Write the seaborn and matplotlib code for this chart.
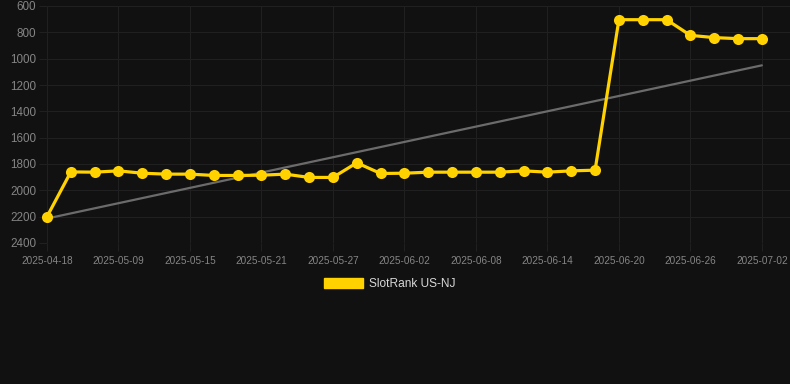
import numpy as np
import pandas as pd
import matplotlib
matplotlib.use("Agg")
import matplotlib.pyplot as plt
from matplotlib.patches import Patch
import seaborn as sns

# SlotRank history, US-NJ (lower rank number = better)
dates = [
    "2025-04-18", "2025-05-05", "2025-05-07", "2025-05-09", "2025-05-11",
    "2025-05-13", "2025-05-15", "2025-05-17", "2025-05-19", "2025-05-21",
    "2025-05-23", "2025-05-25", "2025-05-27", "2025-05-29", "2025-05-31",
    "2025-06-02", "2025-06-04", "2025-06-06", "2025-06-08", "2025-06-10",
    "2025-06-12", "2025-06-14", "2025-06-16", "2025-06-18", "2025-06-20",
    "2025-06-22", "2025-06-24", "2025-06-26", "2025-06-28", "2025-06-30",
    "2025-07-02",
]
ranks = [
    2200, 1860, 1862, 1852, 1870,
    1877, 1877, 1887, 1887, 1885,
    1877, 1902, 1902, 1791, 1872,
    1870, 1862, 1862, 1862, 1862,
    1852, 1862, 1852, 1847, 704,
    704, 704, 823, 840, 848,
    848,
]
series_name = "SlotRank US-NJ"
y_ticks = [600, 800, 1000, 1200, 1400, 1600, 1800, 2000, 2200, 2400]

BG = "#111111"
GRID = "#202020"
YELLOW = "#FFD200"
TREND = "#6b6b6b"
TICK = "#858585"

df = pd.DataFrame({"date": dates, "rank": ranks})
df["idx"] = np.arange(len(df))

sns.set_theme(style="dark")
plt.rcParams["font.family"] = ["Liberation Sans", "DejaVu Sans"]

fig = plt.figure(figsize=(7.9, 3.84), dpi=100, facecolor=BG)
ax = fig.add_axes([47 / 790, 1 - 243 / 384, 743 / 790, 237 / 384])
ax.set_facecolor(BG)

# trend line (linear fit over the whole series)
sns.regplot(data=df, x="idx", y="rank", scatter=False, ci=None, truncate=True,
            line_kws={"color": TREND, "lw": 1.6}, ax=ax)

sns.lineplot(data=df, x="idx", y="rank", color=YELLOW, lw=2.3, marker="o",
             markersize=8, markeredgewidth=0, ax=ax, zorder=3, clip_on=False)

ax.set_xlim(0, 31.18)
ax.set_ylim(2400, 600)
ax.set_yticks(y_ticks)
ax.set_xticks(df["idx"][::3])
ax.set_xticklabels(df["date"][::3])

for s in ax.spines.values():
    s.set_visible(False)
ax.grid(True, color=GRID, lw=0.8)
ax.tick_params(axis="y", colors=GRID, labelcolor=TICK, labelsize=8.4,
               length=5.8, width=0.8, pad=2.2, left=True)
ax.tick_params(axis="x", colors=GRID, labelcolor=TICK, labelsize=7.2,
               length=5.8, width=0.8, pad=3.2, bottom=True)
ax.set_xlabel("")
ax.set_ylabel("")

handle = Patch(facecolor=YELLOW, edgecolor=YELLOW)
fig.legend([handle], [series_name], loc="center", bbox_to_anchor=(390 / 790, 1 - 284 / 384),
           frameon=False, fontsize=8.6, handlelength=3.3, handleheight=0.9,
           handletextpad=0.5, labelcolor="#d8d8d8")

fig.savefig("out.png", dpi=100, facecolor=BG)
